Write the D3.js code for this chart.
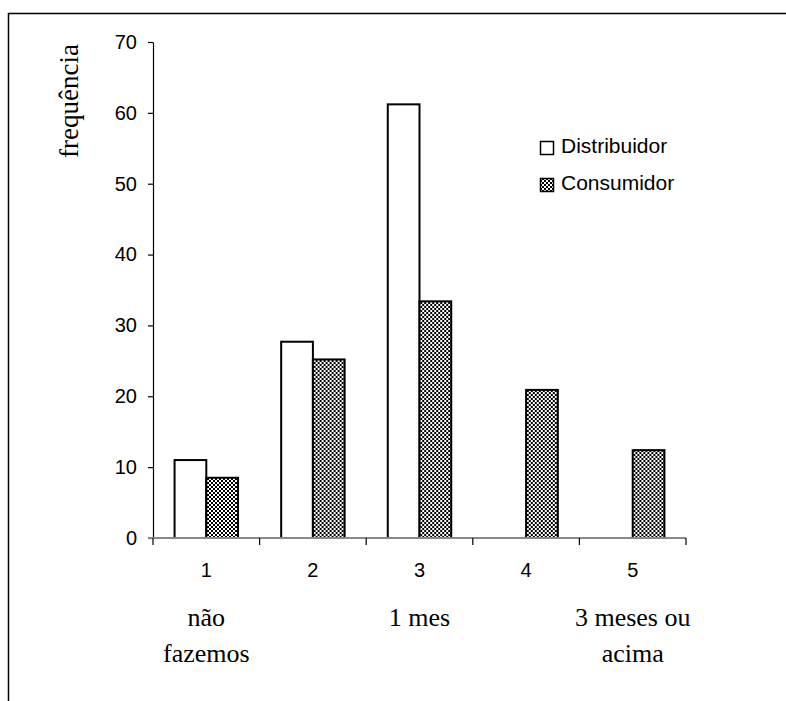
<!DOCTYPE html>
<html>
<head>
<meta charset="utf-8">
<script src="https://cdn.jsdelivr.net/npm/d3@7"></script>
<style>
  html, body { margin: 0; padding: 0; background: #fff; }
  svg { display: block; }
</style>
</head>
<body>
<svg id="chart" width="786" height="701"></svg>
<script>
// Category codes along the x axis and their verbal descriptions
const categories = ["1", "2", "3", "4", "5"];
const groupLabels = [
  { cat: "1", lines: ["não", "fazemos"] },
  { cat: "3", lines: ["1 mes"] },
  { cat: "5", lines: ["3 meses ou", "acima"] }
];
const seriesNames = ["Distribuidor", "Consumidor"];
const distribuidor = [11, 27.7, 61.2, 0, 0];
const consumidor = [8.5, 25.2, 33.4, 20.9, 12.4];
const yTicks = [0, 10, 20, 30, 40, 50, 60, 70];

const svg = d3.select("#chart");
const sans = "'Liberation Sans', Arial, sans-serif";
const serif = "'Liberation Serif', 'Times New Roman', serif";

// Dither pattern used for the Consumidor bars
const defs = svg.append("defs");
const pat = defs.append("pattern")
  .attr("id", "dither")
  .attr("patternUnits", "userSpaceOnUse")
  .attr("width", 4).attr("height", 4);
pat.append("rect").attr("width", 4).attr("height", 4).attr("fill", "#fff");
pat.append("rect").attr("x", 0).attr("y", 0).attr("width", 2).attr("height", 2).attr("fill", "#000");
pat.append("rect").attr("x", 2).attr("y", 2).attr("width", 2).attr("height", 2).attr("fill", "#000");

// Outer frame (continues past the right and bottom edges)
svg.append("rect")
  .attr("x", 8.5).attr("y", 13.5)
  .attr("width", 900).attr("height", 900)
  .attr("fill", "none").attr("stroke", "#000").attr("stroke-width", 1.5);

const x0 = 153, x1 = 686, yTop = 42, yBase = 538;

const x = d3.scaleBand().domain(categories).range([x0, x1]).paddingInner(0).paddingOuter(0);
const xs = d3.scaleBand().domain(seriesNames).range([0, x.bandwidth()]).paddingInner(0).paddingOuter(0.68);
const y = d3.scaleLinear().domain([0, 70]).range([yBase, yTop]);

const data = categories.map((c, i) => ({ cat: c, Distribuidor: distribuidor[i], Consumidor: consumidor[i] }));
const fills = { Distribuidor: "#fff", Consumidor: "url(#dither)" };

// Bars
const groups = svg.append("g").selectAll("g").data(data).join("g")
  .attr("transform", d => `translate(${x(d.cat)},0)`);
groups.selectAll("rect")
  .data(d => seriesNames.map(s => ({ s, v: d[s] })).filter(e => e.v > 0))
  .join("rect")
  .attr("x", e => xs(e.s))
  .attr("y", e => y(e.v))
  .attr("width", xs.bandwidth())
  .attr("height", e => yBase - y(e.v))
  .attr("fill", e => fills[e.s])
  .attr("stroke", "#000")
  .attr("stroke-width", 2);

// Y axis
const yAxis = svg.append("g")
  .attr("transform", `translate(${x0},0)`)
  .call(d3.axisLeft(y).tickValues(yTicks).tickSize(5).tickPadding(11).tickSizeOuter(0));
yAxis.select(".domain").attr("stroke", "#000").attr("stroke-width", 1.2);
yAxis.selectAll(".tick line").attr("stroke", "#000").attr("stroke-width", 1.2);
yAxis.selectAll(".tick text").attr("font-family", sans).attr("font-size", 20).attr("fill", "#000");

// X axis
const xAxis = svg.append("g")
  .attr("transform", `translate(0,${yBase})`)
  .call(d3.axisBottom(x).tickSize(0).tickPadding(25).tickSizeOuter(0));
xAxis.select(".domain").attr("d", `M${x0 - 5},0H${x1}`).attr("stroke", "#888").attr("stroke-width", 2);
xAxis.selectAll(".tick text").attr("font-family", sans).attr("font-size", 20).attr("fill", "#000");
// Category separators below the axis
xAxis.append("g").selectAll("line")
  .data(categories.concat(["end"]))
  .join("line")
  .attr("x1", (d, i) => x0 + i * x.step())
  .attr("x2", (d, i) => x0 + i * x.step())
  .attr("y1", 0).attr("y2", 7)
  .attr("stroke", "#000").attr("stroke-width", 1.2);

// Descriptive labels under selected categories
const gl = svg.append("g");
groupLabels.forEach(g => {
  g.lines.forEach((t, j) => {
    gl.append("text")
      .attr("x", x(g.cat) + x.bandwidth() / 2)
      .attr("y", 626 + j * 36)
      .attr("text-anchor", "middle")
      .attr("font-family", serif)
      .attr("font-size", 26)
      .attr("fill", "#000")
      .text(t);
  });
});

// Y axis title
svg.append("text")
  .attr("transform", "translate(78,101) rotate(-90)")
  .attr("text-anchor", "middle")
  .attr("font-family", serif)
  .attr("font-size", 27)
  .attr("fill", "#000")
  .text("frequência");

// Legend
const legend = svg.append("g").attr("transform", "translate(540,0)");
seriesNames.forEach((s, i) => {
  const top = 141 + i * 37;
  legend.append("rect")
    .attr("x", 0.5).attr("y", top + 0.5)
    .attr("width", 13).attr("height", 13)
    .attr("fill", fills[s]).attr("stroke", "#000").attr("stroke-width", 1.5);
  legend.append("text")
    .attr("x", 21).attr("y", top + 12)
    .attr("font-family", sans).attr("font-size", 21)
    .attr("fill", "#000")
    .text(s);
});
</script>
</body>
</html>
